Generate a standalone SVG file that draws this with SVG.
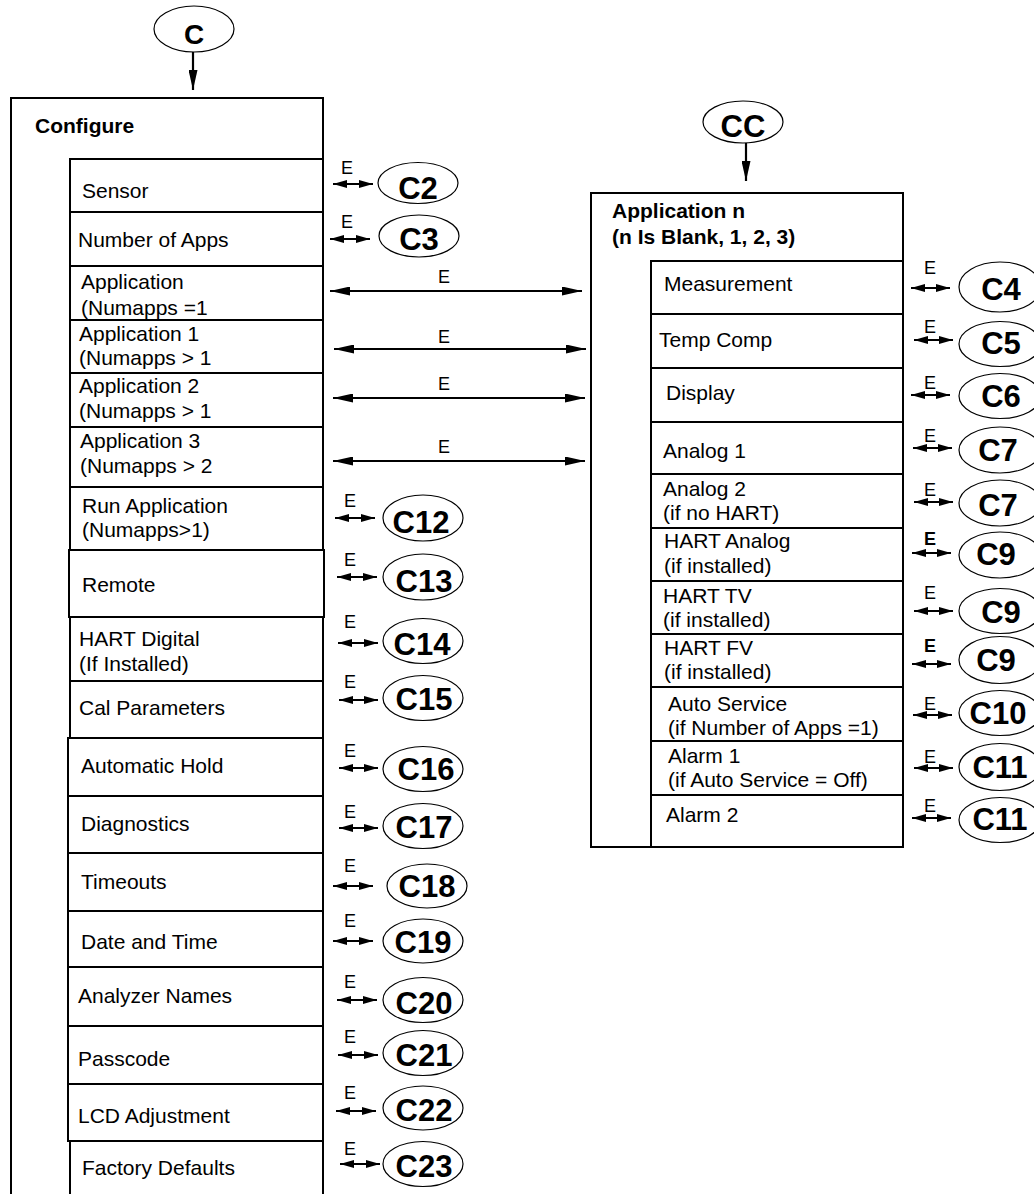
<svg xmlns="http://www.w3.org/2000/svg" width="1034" height="1194" viewBox="0 0 1034 1194">
<defs>
<style>
.box{fill:#fff;stroke:#000;stroke-width:2}
.frame{fill:none;stroke:#000;stroke-width:2}
.ov{fill:#fff;stroke:#000;stroke-width:1.2}
.lbl{font-family:"Liberation Sans",Arial,Helvetica,sans-serif;font-size:21px;fill:#000}
.ttl{font-family:"Liberation Sans",Arial,Helvetica,sans-serif;font-size:21px;font-weight:bold;fill:#000}
.ot{font-family:"Liberation Sans",Arial,Helvetica,sans-serif;font-size:31px;font-weight:bold;fill:#000;text-anchor:middle}
.e{font-family:"Liberation Sans",Arial,Helvetica,sans-serif;font-size:18px;fill:#000}
.eb{font-family:"Liberation Sans",Arial,Helvetica,sans-serif;font-size:18px;font-weight:bold;fill:#000}
.em{font-family:"Liberation Sans",Arial,Helvetica,sans-serif;font-size:18px;fill:#000;text-anchor:middle}
.sa{stroke:#000;stroke-width:2.2;fill:none;marker-start:url(#hs);marker-end:url(#hs)}
.la{stroke:#000;stroke-width:2.2;fill:none;marker-start:url(#hl);marker-end:url(#hl)}
.da{stroke:#000;stroke-width:2.2;fill:none;marker-end:url(#hd)}
</style>
<marker id="hs" markerUnits="userSpaceOnUse" viewBox="0 0 14 8" refX="14" refY="4" markerWidth="14" markerHeight="8" orient="auto-start-reverse"><path d="M0,0 L14,4 L0,8 Z" fill="#000"/></marker>
<marker id="hl" markerUnits="userSpaceOnUse" viewBox="0 0 20 9" refX="20" refY="4.5" markerWidth="20" markerHeight="9" orient="auto-start-reverse"><path d="M0,0 L20,4.5 L0,9 Z" fill="#000"/></marker>
<marker id="hd" markerUnits="userSpaceOnUse" viewBox="0 0 20 9" refX="20" refY="4.5" markerWidth="20" markerHeight="9" orient="auto"><path d="M0,0 L20,4.5 L0,9 Z" fill="#000"/></marker>
</defs>
<rect width="1034" height="1194" fill="#fff"/>

<!-- Entry ovals -->
<g id="node-C"><ellipse class="ov" cx="194" cy="29" rx="40" ry="23"/><text class="ot" x="194" y="44" style="font-size:28px">C</text></g>
<g id="node-CC"><ellipse class="ov" cx="743" cy="122" rx="40" ry="21"/><text class="ot" x="743" y="137">CC</text></g>

<!-- Configure menu -->
<g id="node-configure">
<path class="frame" d="M11,1200 V98 H323 V159"/>
<text class="ttl" x="35" y="133">Configure</text>
</g>
<g id="node-sensor"><rect class="box" x="70" y="159" width="253" height="53"/><text class="lbl" x="82" y="198">Sensor</text></g>
<g id="node-numapps"><rect class="box" x="70" y="212" width="253" height="54"/><text class="lbl" x="78" y="247">Number of Apps</text></g>
<g id="node-app"><rect class="box" x="70" y="266" width="253" height="54"/><text class="lbl" x="81" y="289">Application</text><text class="lbl" x="81" y="315">(Numapps =1</text></g>
<g id="node-app1"><rect class="box" x="70" y="320" width="253" height="53"/><text class="lbl" x="79" y="341">Application 1</text><text class="lbl" x="79" y="365">(Numapps &gt; 1</text></g>
<g id="node-app2"><rect class="box" x="70" y="373" width="253" height="54"/><text class="lbl" x="79" y="393">Application 2</text><text class="lbl" x="79" y="418">(Numapps &gt; 1</text></g>
<g id="node-app3"><rect class="box" x="70" y="427" width="253" height="60"/><text class="lbl" x="80" y="448">Application 3</text><text class="lbl" x="80" y="473">(Numapps &gt; 2</text></g>
<g id="node-runapp"><rect class="box" x="70" y="487" width="253" height="63"/><text class="lbl" x="82" y="513">Run Application</text><text class="lbl" x="82" y="537">(Numapps&gt;1)</text></g>
<g id="node-remote"><rect class="box" x="69" y="550" width="255" height="67"/><text class="lbl" x="82" y="592">Remote</text></g>
<g id="node-hartdigital"><rect class="box" x="70" y="617" width="253" height="64"/><text class="lbl" x="79" y="646">HART Digital</text><text class="lbl" x="79" y="671">(If Installed)</text></g>
<g id="node-cal"><rect class="box" x="70" y="681" width="253" height="57"/><text class="lbl" x="79" y="715">Cal Parameters</text></g>
<g id="node-autohold"><rect class="box" x="68" y="738" width="255" height="58"/><text class="lbl" x="81" y="773">Automatic Hold</text></g>
<g id="node-diag"><rect class="box" x="68" y="796" width="255" height="57"/><text class="lbl" x="81" y="831">Diagnostics</text></g>
<g id="node-timeouts"><rect class="box" x="68" y="853" width="255" height="58"/><text class="lbl" x="81" y="889">Timeouts</text></g>
<g id="node-datetime"><rect class="box" x="68" y="911" width="255" height="56"/><text class="lbl" x="81" y="949">Date and Time</text></g>
<g id="node-names"><rect class="box" x="68" y="967" width="255" height="59"/><text class="lbl" x="78" y="1003">Analyzer Names</text></g>
<g id="node-passcode"><rect class="box" x="68" y="1026" width="255" height="58"/><text class="lbl" x="78" y="1066">Passcode</text></g>
<g id="node-lcd"><rect class="box" x="68" y="1084" width="255" height="57"/><text class="lbl" x="78" y="1123">LCD Adjustment</text></g>
<g id="node-factory"><path class="frame" d="M70,1200 V1141 H323 V1200"/><text class="lbl" x="82" y="1175">Factory Defaults</text></g>

<!-- Application n menu -->
<g id="node-appn">
<path class="frame" d="M651,847 H591 V193 H903 V261"/>
<text class="ttl" x="612" y="218">Application n</text>
<text class="ttl" x="612" y="244">(n Is Blank, 1, 2, 3)</text>
</g>
<g id="node-measurement"><rect class="box" x="651" y="261" width="252" height="53"/><text class="lbl" x="664" y="291">Measurement</text></g>
<g id="node-tempcomp"><rect class="box" x="651" y="314" width="252" height="54"/><text class="lbl" x="659" y="347">Temp Comp</text></g>
<g id="node-display"><rect class="box" x="651" y="368" width="252" height="54"/><text class="lbl" x="666" y="400">Display</text></g>
<g id="node-analog1"><rect class="box" x="651" y="422" width="252" height="52"/><text class="lbl" x="663" y="458">Analog 1</text></g>
<g id="node-analog2"><rect class="box" x="651" y="474" width="252" height="54"/><text class="lbl" x="663" y="496">Analog 2</text><text class="lbl" x="663" y="520">(if no HART)</text></g>
<g id="node-hartanalog"><rect class="box" x="651" y="528" width="252" height="53"/><text class="lbl" x="664" y="548">HART Analog</text><text class="lbl" x="664" y="573">(if installed)</text></g>
<g id="node-harttv"><rect class="box" x="651" y="581" width="252" height="53"/><text class="lbl" x="663" y="603">HART TV</text><text class="lbl" x="663" y="627">(if installed)</text></g>
<g id="node-hartfv"><rect class="box" x="651" y="634" width="252" height="53"/><text class="lbl" x="664" y="655">HART FV</text><text class="lbl" x="664" y="679">(if installed)</text></g>
<g id="node-autoservice"><rect class="box" x="651" y="687" width="252" height="54"/><text class="lbl" x="668" y="711">Auto Service</text><text class="lbl" x="668" y="735">(if Number of Apps =1)</text></g>
<g id="node-alarm1"><rect class="box" x="651" y="741" width="252" height="54"/><text class="lbl" x="668" y="763">Alarm 1</text><text class="lbl" x="668" y="787">(if Auto Service = Off)</text></g>
<g id="node-alarm2"><rect class="box" x="651" y="795" width="252" height="52"/><text class="lbl" x="666" y="822">Alarm 2</text></g>

<!-- Target ovals, left -->
<g id="node-C2"><ellipse class="ov" cx="418" cy="183" rx="40" ry="20.5"/><text class="ot" x="418" y="199">C2</text></g>
<g id="node-C3"><ellipse class="ov" cx="419" cy="236" rx="40" ry="21"/><text class="ot" x="419" y="250">C3</text></g>
<g id="node-C12"><ellipse class="ov" cx="423" cy="518" rx="40" ry="23"/><text class="ot" x="421" y="533">C12</text></g>
<g id="node-C13"><ellipse class="ov" cx="423" cy="577" rx="40" ry="23"/><text class="ot" x="424" y="592">C13</text></g>
<g id="node-C14"><ellipse class="ov" cx="423" cy="641" rx="40" ry="22.5"/><text class="ot" x="422" y="655">C14</text></g>
<g id="node-C15"><ellipse class="ov" cx="423" cy="698" rx="40" ry="22.5"/><text class="ot" x="424" y="710">C15</text></g>
<g id="node-C16"><ellipse class="ov" cx="423" cy="769" rx="40" ry="22.5"/><text class="ot" x="426" y="780">C16</text></g>
<g id="node-C17"><ellipse class="ov" cx="423" cy="826" rx="40" ry="22.5"/><text class="ot" x="424" y="838">C17</text></g>
<g id="node-C18"><ellipse class="ov" cx="427" cy="886" rx="40" ry="22"/><text class="ot" x="427" y="897">C18</text></g>
<g id="node-C19"><ellipse class="ov" cx="423" cy="941" rx="40" ry="22"/><text class="ot" x="423" y="953">C19</text></g>
<g id="node-C20"><ellipse class="ov" cx="423" cy="1000" rx="40" ry="22.5"/><text class="ot" x="424" y="1014">C20</text></g>
<g id="node-C21"><ellipse class="ov" cx="423" cy="1053" rx="40" ry="22.5"/><text class="ot" x="424" y="1066">C21</text></g>
<g id="node-C22"><ellipse class="ov" cx="423" cy="1108" rx="40" ry="22"/><text class="ot" x="424" y="1121">C22</text></g>
<g id="node-C23"><ellipse class="ov" cx="423" cy="1164" rx="40" ry="22.5"/><text class="ot" x="424" y="1177">C23</text></g>

<!-- Target ovals, right -->
<g id="node-C4"><ellipse class="ov" cx="1000" cy="287" rx="41" ry="25"/><text class="ot" x="1001" y="300">C4</text></g>
<g id="node-C5"><ellipse class="ov" cx="1000" cy="344" rx="41" ry="22.5"/><text class="ot" x="1001" y="354">C5</text></g>
<g id="node-C6"><ellipse class="ov" cx="1000" cy="396" rx="41" ry="22.5"/><text class="ot" x="1001" y="407">C6</text></g>
<g id="node-C7a"><ellipse class="ov" cx="1000" cy="450" rx="41" ry="23"/><text class="ot" x="998" y="461">C7</text></g>
<g id="node-C7b"><ellipse class="ov" cx="1000" cy="503" rx="41" ry="23"/><text class="ot" x="998" y="516">C7</text></g>
<g id="node-C9a"><ellipse class="ov" cx="1000" cy="555" rx="41" ry="23"/><text class="ot" x="996" y="565">C9</text></g>
<g id="node-C9b"><ellipse class="ov" cx="1000" cy="611" rx="41" ry="22.5"/><text class="ot" x="1001" y="623">C9</text></g>
<g id="node-C9c"><ellipse class="ov" cx="1000" cy="660" rx="41" ry="23.5"/><text class="ot" x="996" y="671">C9</text></g>
<g id="node-C10"><ellipse class="ov" cx="1000" cy="713" rx="41" ry="22.5"/><text class="ot" x="998" y="724">C10</text></g>
<g id="node-C11a"><ellipse class="ov" cx="1000" cy="767" rx="41" ry="23.5"/><text class="ot" x="1000" y="778">C11</text></g>
<g id="node-C11b"><ellipse class="ov" cx="1000" cy="820" rx="41" ry="22.5"/><text class="ot" x="1000" y="830">C11</text></g>

<!-- Connectors -->
<g id="connectors">
<line class="da" x1="193" y1="52" x2="193" y2="90"/>
<line class="da" x1="746" y1="143" x2="746" y2="181"/>

<line class="sa" x1="333" y1="184" x2="373" y2="184"/><text class="e" x="341" y="174">E</text>
<line class="sa" x1="330" y1="239" x2="370" y2="239"/><text class="e" x="341" y="228">E</text>

<line class="la" x1="330" y1="291" x2="582" y2="291"/><text class="em" x="444" y="283">E</text>
<line class="la" x1="334" y1="349" x2="586" y2="349"/><text class="em" x="444" y="343">E</text>
<line class="la" x1="333" y1="398" x2="585" y2="398"/><text class="em" x="444" y="390">E</text>
<line class="la" x1="333" y1="461" x2="585" y2="461"/><text class="em" x="444" y="453">E</text>

<line class="sa" x1="335" y1="518" x2="375" y2="518"/><text class="e" x="344" y="507">E</text>
<line class="sa" x1="337" y1="577" x2="377" y2="577"/><text class="e" x="344" y="566">E</text>
<line class="sa" x1="338" y1="643" x2="378" y2="643"/><text class="e" x="344" y="628">E</text>
<line class="sa" x1="339" y1="700" x2="378" y2="700"/><text class="e" x="344" y="688">E</text>
<line class="sa" x1="339" y1="768" x2="378" y2="768"/><text class="e" x="344" y="757">E</text>
<line class="sa" x1="339" y1="828" x2="378" y2="828"/><text class="e" x="344" y="818">E</text>
<line class="sa" x1="333" y1="886" x2="373" y2="886"/><text class="e" x="344" y="872">E</text>
<line class="sa" x1="333" y1="941" x2="373" y2="941"/><text class="e" x="344" y="927">E</text>
<line class="sa" x1="337" y1="1000" x2="377" y2="1000"/><text class="e" x="344" y="988">E</text>
<line class="sa" x1="338" y1="1055" x2="378" y2="1055"/><text class="e" x="344" y="1043">E</text>
<line class="sa" x1="336" y1="1111" x2="376" y2="1111"/><text class="e" x="344" y="1099">E</text>
<line class="sa" x1="340" y1="1164" x2="380" y2="1164"/><text class="e" x="344" y="1155">E</text>

<line class="sa" x1="911" y1="288" x2="950" y2="288"/><text class="e" x="924" y="274">E</text>
<line class="sa" x1="914" y1="340" x2="953" y2="340"/><text class="e" x="924" y="333">E</text>
<line class="sa" x1="911" y1="395" x2="950" y2="395"/><text class="e" x="924" y="389">E</text>
<line class="sa" x1="913" y1="448" x2="952" y2="448"/><text class="e" x="924" y="442">E</text>
<line class="sa" x1="914" y1="502" x2="953" y2="502"/><text class="e" x="924" y="496">E</text>
<line class="sa" x1="912" y1="553" x2="951" y2="553"/><text class="eb" x="924" y="545">E</text>
<line class="sa" x1="914" y1="611" x2="953" y2="611"/><text class="e" x="924" y="599">E</text>
<line class="sa" x1="912" y1="664" x2="951" y2="664"/><text class="eb" x="924" y="652">E</text>
<line class="sa" x1="913" y1="715" x2="952" y2="715"/><text class="e" x="924" y="710">E</text>
<line class="sa" x1="914" y1="768" x2="953" y2="768"/><text class="e" x="924" y="763">E</text>
<line class="sa" x1="912" y1="818" x2="951" y2="818"/><text class="e" x="924" y="812">E</text>
</g>
</svg>
